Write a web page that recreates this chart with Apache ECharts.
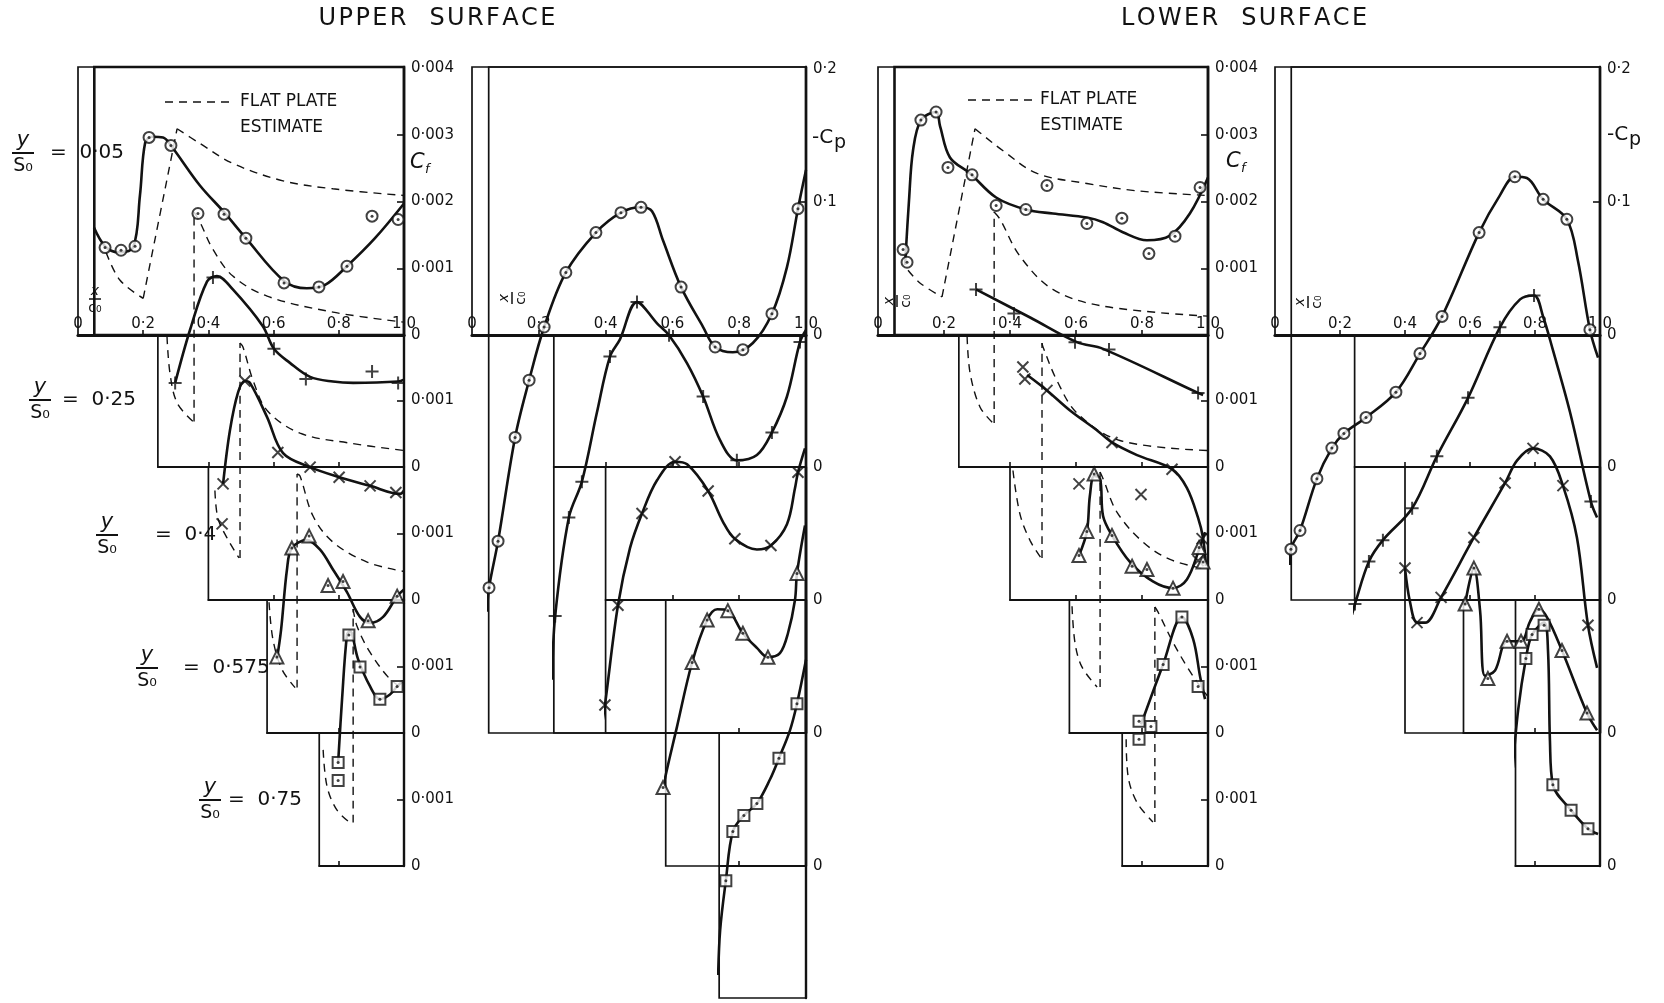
<!DOCTYPE html>
<html>
<head>
<meta charset="utf-8">
<title>Skin friction and pressure distributions</title>
<script src="https://cdn.jsdelivr.net/npm/echarts@6.0.0/dist/echarts.min.js"></script>
<style>
html,body{margin:0;padding:0;background:#ffffff;}
#chart{width:1664px;height:1003px;}
</style>
</head>
<body>
<div id="chart"></div>
<script>
// ================= DATA =================
const stationText = ['0·05', '0·25', '0·4', '0·575', '0·75'];
const leadingEdge = [0.05, 0.245, 0.4, 0.58, 0.74];       // x/c0 of each panel's left edge
const xTickValues = [0, 0.2, 0.4, 0.6, 0.8, 1.0];
const xTickText = ['0', '0·2', '0·4', '0·6', '0·8', '1·0'];
const cfTickValues = [0, 0.001, 0.002, 0.003, 0.004];
const cfTickText = ['0', '0·001', '0·002', '0·003', '0·004'];
const cpTickValues = [0, 0.1, 0.2];
const cpTickText = ['0', '0·1', '0·2'];

// ---- Upper surface, Cf ----
const ucf05Pts = [[0.083,0.00131],[0.132,0.00127],[0.175,0.00133],[0.218,0.00296],[0.285,0.00284],[0.368,0.00182],[0.448,0.00181],[0.515,0.00145],[0.632,0.00078],[0.739,0.00072],[0.825,0.00103],[0.902,0.00178],[0.982,0.00173]];
const ucf05Curve = [[0.049,0.00161],[0.083,0.00133],[0.123,0.00124],[0.169,0.00131],[0.19,0.00209],[0.206,0.00288],[0.227,0.00297],[0.261,0.00296],[0.285,0.00284],[0.374,0.00224],[0.448,0.00184],[0.515,0.00145],[0.632,0.00081],[0.702,0.00070],[0.758,0.00075],[0.825,0.00103],[0.911,0.00145],[1.0,0.00197]];
const ucf05Flat = [[[0.086,0.00124],[0.129,0.00082],[0.2,0.00055]],[[0.2,0.00055],[0.304,0.00309]],[[0.304,0.00309],[0.374,0.00287],[0.475,0.00257],[0.629,0.00231],[0.782,0.00219],[1.0,0.00209]]];

const ucf25Pts = [[0.298,0.00126],[0.414,0.00284],[0.601,0.00177],[0.699,0.00132],[0.902,0.00143],[0.982,0.00126]];
const ucf25Curve = [[0.298,0.00126],[0.344,0.00206],[0.396,0.00278],[0.426,0.00286],[0.475,0.00266],[0.567,0.00211],[0.601,0.00177],[0.65,0.00156],[0.712,0.00135],[0.782,0.00128],[0.844,0.00126],[0.982,0.00128],[1.0,0.00131]];
const ucf25Flat = [[[0.273,0.00196],[0.282,0.00141],[0.304,0.00096],[0.353,0.00068]],[[0.356,0.00068],[0.356,0.00382]],[[0.356,0.00382],[0.374,0.00367],[0.414,0.00326],[0.475,0.00286],[0.58,0.00256],[0.782,0.00232],[1.0,0.00217]]];

const ucf40Pts = [[0.445,0.00174],[0.442,0.00114],[0.512,0.00328],[0.613,0.00221],[0.712,0.00199],[0.801,0.00184],[0.896,0.00171],[0.975,0.00161]];
const ucf40Curve = [[0.445,0.00174],[0.466,0.00254],[0.491,0.00311],[0.512,0.00328],[0.528,0.00325],[0.58,0.00274],[0.629,0.0022],[0.712,0.00199],[0.801,0.00184],[0.896,0.00171],[0.988,0.00159],[1.0,0.00164]];
const ucf40Flat = [[[0.42,0.00164],[0.429,0.00123],[0.457,0.00093],[0.494,0.00063]],[[0.497,0.00063],[0.497,0.00385]],[[0.497,0.00385],[0.506,0.00379],[0.537,0.00329],[0.58,0.00284],[0.681,0.0025],[0.834,0.00235],[1.0,0.00224]]];

const ucf575Pts = [[0.61,0.00114],[0.656,0.00277],[0.709,0.00295],[0.767,0.00221],[0.813,0.00227],[0.89,0.00168],[0.979,0.00205]];
const ucf575Curve = [[0.61,0.0011],[0.623,0.00155],[0.641,0.00245],[0.656,0.00277],[0.702,0.00289],[0.742,0.00275],[0.782,0.00245],[0.825,0.00211],[0.865,0.00174],[0.896,0.00165],[0.936,0.00174],[0.979,0.00205],[1.0,0.00215]];
const ucf575Flat = [[[0.586,0.00196],[0.598,0.0014],[0.626,0.00095],[0.666,0.00068]],[[0.672,0.00068],[0.672,0.00388]],[[0.672,0.00388],[0.681,0.00385],[0.721,0.00325],[0.782,0.00286],[0.887,0.00256],[1.0,0.00242]]];

const ucf75Pts = [[0.831,0.00346],[0.865,0.00298],[0.979,0.00269],[0.926,0.0025],[0.798,0.00155],[0.798,0.00128]];
const ucf75Curve = [[0.798,0.00155],[0.81,0.0025],[0.825,0.00346],[0.834,0.00352],[0.859,0.0031],[0.896,0.00269],[0.926,0.0025],[0.957,0.00257],[0.979,0.00269],[0.997,0.00277]];
const ucf75Flat = [[[0.752,0.00174],[0.764,0.00119],[0.794,0.00084],[0.834,0.00065]],[[0.844,0.00065],[0.844,0.00385]],[[0.844,0.00385],[0.856,0.00359],[0.896,0.0032],[0.957,0.0028],[1.0,0.00265]]];

// ---- Upper surface, -Cp ----
const ucp05Pts = [[0.216,0.006],[0.281,0.047],[0.371,0.077],[0.446,0.092],[0.506,0.096],[0.626,0.036],[0.728,-0.009],[0.811,-0.011],[0.898,0.016],[0.976,0.095],[0.171,-0.034],[0.129,-0.077],[0.078,-0.155],[0.051,-0.19]];
const ucp05Curve = [[0.045,-0.208],[0.051,-0.19],[0.078,-0.155],[0.129,-0.077],[0.171,-0.034],[0.216,0.006],[0.281,0.047],[0.371,0.077],[0.446,0.092],[0.506,0.096],[0.539,0.093],[0.572,0.071],[0.626,0.036],[0.692,0.006],[0.728,-0.009],[0.781,-0.013],[0.841,-0.006],[0.898,0.016],[0.943,0.051],[0.976,0.095],[1.0,0.124]];
const ucp25Pts = [[0.494,0.124],[0.59,0.099],[0.982,0.094],[0.413,0.083],[0.692,0.053],[0.898,0.026],[0.793,0.005],[0.329,-0.011],[0.29,-0.038],[0.249,-0.112]];
const ucp25Curve = [[0.24,-0.16],[0.249,-0.112],[0.29,-0.038],[0.329,-0.011],[0.374,0.041],[0.413,0.083],[0.443,0.096],[0.494,0.124],[0.554,0.108],[0.59,0.099],[0.644,0.078],[0.692,0.053],[0.743,0.02],[0.793,0.005],[0.853,0.009],[0.898,0.026],[0.943,0.053],[0.982,0.094],[1.0,0.103]];
const ucp40Pts = [[0.608,0.104],[0.707,0.082],[0.509,0.065],[0.787,0.046],[0.895,0.041],[0.976,0.096],[0.437,-0.004],[0.398,-0.079]];
const ucp40Curve = [[0.383,-0.104],[0.398,-0.079],[0.437,-0.004],[0.473,0.039],[0.509,0.065],[0.554,0.09],[0.608,0.104],[0.644,0.102],[0.707,0.082],[0.751,0.059],[0.787,0.046],[0.853,0.038],[0.895,0.041],[0.943,0.057],[0.967,0.084],[0.976,0.096],[0.997,0.114]];
const ucp575Pts = [[0.973,0.12],[0.704,0.085],[0.766,0.092],[0.811,0.075],[0.886,0.057],[0.659,0.053],[0.572,-0.041]];
const ucp575Curve = [[0.563,-0.058],[0.572,-0.041],[0.614,0.005],[0.659,0.053],[0.704,0.085],[0.734,0.093],[0.766,0.092],[0.811,0.075],[0.853,0.064],[0.886,0.057],[0.922,0.06],[0.946,0.075],[0.967,0.1],[0.973,0.12],[0.997,0.156]];
const ucp75Pts = [[0.973,0.122],[0.919,0.081],[0.853,0.047],[0.814,0.038],[0.781,0.026],[0.76,-0.011]];
const ucp75Curve = [[0.737,-0.082],[0.743,-0.048],[0.76,-0.011],[0.781,0.026],[0.814,0.038],[0.853,0.047],[0.892,0.065],[0.919,0.081],[0.952,0.102],[0.973,0.122],[1.0,0.155]];

// ---- Lower surface, Cf ----
const lcf05Pts = [[0.076,0.00128],[0.088,0.00109],[0.13,0.00322],[0.176,0.00334],[0.212,0.00251],[0.285,0.0024],[0.358,0.00194],[0.448,0.00188],[0.512,0.00224],[0.633,0.00167],[0.739,0.00175],[0.821,0.00122],[0.9,0.00148],[0.976,0.00221]];
const lcf05Curve = [[0.082,0.00105],[0.094,0.00202],[0.106,0.00276],[0.13,0.00322],[0.176,0.00334],[0.188,0.00313],[0.218,0.00266],[0.279,0.00242],[0.358,0.00206],[0.448,0.00188],[0.53,0.00182],[0.633,0.00176],[0.682,0.00169],[0.742,0.00154],[0.815,0.00142],[0.885,0.00149],[0.945,0.00182],[1.0,0.00236]];
const lcf05Flat = [[[0.091,0.00097],[0.127,0.00078],[0.194,0.00057]],[[0.194,0.00057],[0.294,0.00309]],[[0.294,0.00309],[0.309,0.00303],[0.379,0.00276],[0.482,0.00242],[0.633,0.00227],[0.785,0.00216],[1.0,0.00209]]];

const lcf25Pts = [[0.297,0.00266],[0.412,0.0023],[0.597,0.00187],[0.7,0.00176],[0.97,0.00111]];
const lcf25Curve = [[0.297,0.00266],[0.461,0.00224],[0.603,0.00187],[0.682,0.00177],[0.97,0.00111],[0.985,0.00108]];
const lcf25Flat = [[[0.27,0.00196],[0.279,0.00141],[0.309,0.0009],[0.348,0.00066]],[[0.352,0.00066],[0.352,0.00382]],[[0.352,0.00382],[0.37,0.00371],[0.43,0.00316],[0.53,0.00266],[0.682,0.00241],[1.0,0.00226]]];

const lcf40Pts = [[0.439,0.00349],[0.445,0.00331],[0.512,0.00314],[0.709,0.00236],[0.891,0.00196],[0.609,0.00174],[0.797,0.00158],[0.982,0.00092],[0.97,0.00059]];
const lcf40Curve = [[0.452,0.00337],[0.512,0.00314],[0.582,0.00284],[0.664,0.00254],[0.709,0.00236],[0.785,0.00217],[0.891,0.00196],[0.936,0.00168],[0.97,0.00123],[0.985,0.00093],[0.994,0.00051]];
const lcf40Flat = [[[0.409,0.00194],[0.43,0.00129],[0.461,0.00089],[0.494,0.00063]],[[0.497,0.00063],[0.497,0.00385]],[[0.497,0.00385],[0.5,0.00379],[0.542,0.00329],[0.603,0.0028],[0.733,0.00239],[1.0,0.00224]]];

const lcf575Pts = [[0.655,0.00388],[0.633,0.00302],[0.609,0.00266],[0.709,0.00296],[0.77,0.0025],[0.815,0.00245],[0.894,0.00217],[0.973,0.00278],[0.985,0.00256]];
const lcf575Curve = [[0.609,0.00266],[0.633,0.00302],[0.642,0.00355],[0.655,0.00385],[0.673,0.00381],[0.682,0.00325],[0.709,0.00296],[0.764,0.00256],[0.833,0.00227],[0.894,0.00217],[0.936,0.0023],[0.973,0.00275],[0.991,0.00301]];
const lcf575Flat = [[[0.588,0.0019],[0.597,0.00135],[0.618,0.00099],[0.664,0.00069]],[[0.673,0.00069],[0.673,0.00391]],[[0.673,0.00391],[0.682,0.00381],[0.724,0.00331],[0.803,0.00286],[0.885,0.0026],[1.0,0.00245]]];

const lcf75Pts = [[0.921,0.00373],[0.864,0.00302],[0.97,0.00269],[0.791,0.00217],[0.827,0.00209],[0.791,0.0019]];
const lcf75Curve = [[0.797,0.00212],[0.864,0.00302],[0.921,0.00373],[0.955,0.0034],[0.976,0.00284],[0.991,0.0025]];
const lcf75Flat = [[[0.752,0.0019],[0.758,0.00134],[0.785,0.00095],[0.833,0.00066]],[[0.839,0.00066],[0.839,0.00388]],[[0.839,0.00388],[0.848,0.00381],[0.894,0.00335],[0.936,0.00299],[0.976,0.00269],[1.0,0.00254]]];

// ---- Lower surface, -Cp ----
const lcp05Pts = [[0.514,0.014],[0.628,0.077],[0.738,0.119],[0.825,0.102],[0.898,0.087],[0.969,0.004],[0.446,-0.014],[0.372,-0.043],[0.28,-0.062],[0.212,-0.074],[0.175,-0.085],[0.129,-0.108],[0.077,-0.147],[0.049,-0.161]];
const lcp05Curve = [[0.046,-0.173],[0.049,-0.161],[0.077,-0.147],[0.129,-0.108],[0.175,-0.085],[0.212,-0.074],[0.28,-0.062],[0.372,-0.043],[0.446,-0.014],[0.514,0.014],[0.628,0.077],[0.692,0.105],[0.738,0.119],[0.775,0.118],[0.825,0.102],[0.898,0.087],[0.932,0.056],[0.969,0.004],[0.994,-0.017]];
const lcp25Pts = [[0.797,0.129],[0.692,0.105],[0.594,0.052],[0.498,0.008],[0.422,-0.031],[0.332,-0.055],[0.289,-0.071],[0.246,-0.103],[0.972,-0.026]];
const lcp25Curve = [[0.237,-0.111],[0.246,-0.103],[0.289,-0.071],[0.332,-0.055],[0.422,-0.031],[0.498,0.008],[0.594,0.052],[0.692,0.105],[0.754,0.126],[0.797,0.129],[0.825,0.113],[0.855,0.088],[0.908,0.041],[0.972,-0.026],[0.991,-0.038]];
const lcp40Pts = [[0.794,0.114],[0.708,0.088],[0.886,0.086],[0.612,0.047],[0.511,0.002],[0.4,0.024],[0.437,-0.017],[0.963,-0.019]];
const lcp40Curve = [[0.4,0.024],[0.415,-0.001],[0.437,-0.017],[0.462,-0.017],[0.511,0.002],[0.612,0.047],[0.708,0.088],[0.745,0.105],[0.794,0.114],[0.846,0.108],[0.886,0.086],[0.929,0.047],[0.963,-0.019],[0.991,-0.051]];
const lcp575Pts = [[0.612,0.124],[0.585,0.097],[0.655,0.041],[0.714,0.069],[0.757,0.069],[0.812,0.093],[0.883,0.062],[0.96,0.015]];
const lcp575Curve = [[0.585,0.097],[0.612,0.124],[0.631,0.092],[0.646,0.043],[0.677,0.047],[0.714,0.069],[0.757,0.069],[0.785,0.084],[0.812,0.093],[0.837,0.087],[0.883,0.062],[0.96,0.015],[0.991,0.002]];
const lcp75Pts = [[0.772,0.156],[0.791,0.174],[0.828,0.181],[0.855,0.061],[0.911,0.042],[0.963,0.028]];
const lcp75Curve = [[0.732,0.074],[0.748,0.117],[0.772,0.156],[0.791,0.174],[0.828,0.183],[0.84,0.162],[0.846,0.094],[0.855,0.061],[0.911,0.042],[0.963,0.028],[0.994,0.024]];

// ================= LAYOUT =================
const INK = '#121212';
const FONT = '"DejaVu Sans", "Liberation Sans", sans-serif';
const COL = { ucf:{x0:78,w:326}, ucp:{x0:472,w:334}, lcf:{x0:878,w:330}, lcp:{x0:1275,w:325} };
const ZERO = [335, 467, 600, 733, 866];
const TOP = 67;
const CF_PX = 66750;   // px per unit Cf
const CP_PX = 1330;    // px per unit -Cp
const ucpBoxes = [[TOP,733],[335,733],[467,733],[600,866],[733,998]];
const lcpBoxes = [[TOP,600],[335,600],[467,733],[600,733],[600,866]];

const SYMS = [
  {symbol:'emptyCircle', size:11, dot:true},
  {symbol:'path://M0,7H14M7,0V14', size:13, dot:false},
  {symbol:'path://M0,0L14,14M14,0L0,14', size:11, dot:false},
  {symbol:'emptyTriangle', size:13, dot:true},
  {symbol:'emptyRect', size:11, dot:true}
];

function lookup(vals, texts, v) {
  for (let i = 0; i < vals.length; i++) if (Math.abs(vals[i] - v) < 1e-9) return texts[i];
  return '';
}

const grids = [], xAxes = [], yAxes = [], series = [];

function addGrid(col, xmin, top, bot, zero, pxPer, o) {
  o = o || {};
  const c = COL[col];
  grids.push({left: c.x0 + xmin * c.w, top: top, width: (1 - xmin) * c.w, height: bot - top,
    show: o.box !== false, borderColor: INK, borderWidth: o.bw || 1.7,
    backgroundColor: 'rgba(0,0,0,0)', containLabel: false, outerBoundsMode: 'none'});
  const gi = grids.length - 1;
  const ymin = -(bot - zero) / pxPer, ymax = (zero - top) / pxPer;
  const xt = (o.xTicks || []).filter(v => v > xmin + 0.02 && v < 0.99);
  const yl = (o.yLabels || []).filter(v => v >= ymin - 1e-9 && v <= ymax + 1e-6);
  xAxes.push({gridIndex: gi, type: 'value', min: xmin, max: 1, splitLine: {show: false},
    axisLine: {show: o.xLine !== false, onZero: true, lineStyle: {color: INK, width: o.xw || 1.8}},
    axisTick: {show: xt.length > 0, inside: true, length: 5, customValues: xt, lineStyle: {color: INK, width: 1.6}},
    axisLabel: {show: !!o.xLabels, inside: true, margin: 3, customValues: o.xLabels ? xTickValues : [],
      formatter: v => lookup(xTickValues, xTickText, v), color: INK, fontFamily: FONT, fontSize: 15}
  });
  yAxes.push({gridIndex: gi, type: 'value', position: 'right', min: ymin, max: ymax, splitLine: {show: false},
    axisLine: {show: o.yLine !== false, onZero: false, lineStyle: {color: INK, width: 2.4}},
    axisTick: {show: (o.yTicks || []).length > 0, inside: true, length: 7, customValues: o.yTicks || [], lineStyle: {color: INK, width: 1.6}},
    axisLabel: {show: yl.length > 0, customValues: yl, margin: 7,
      formatter: v => lookup(o.yVals || [], o.yText || [], v), color: INK, fontFamily: FONT, fontSize: 15}
  });
  return gi;
}

function addPanel(gi, pts, curve, flat, sym) {
  series.push({type: 'line', xAxisIndex: gi, yAxisIndex: gi, data: curve, smooth: 0.35, symbol: 'none',
    showSymbol: false, clip: false, silent: true, z: 3, lineStyle: {color: INK, width: 2.6}});
  (flat || []).forEach(seg => series.push({type: 'line', xAxisIndex: gi, yAxisIndex: gi, data: seg, smooth: 0.35,
    symbol: 'none', showSymbol: false, clip: false, silent: true, z: 2, lineStyle: {color: INK, width: 1.4, type: [8, 6]}}));
  series.push({type: 'scatter', xAxisIndex: gi, yAxisIndex: gi, data: pts, symbol: sym.symbol, symbolSize: sym.size,
    clip: false, silent: true, z: 5,
    itemStyle: sym.dot ? {color: INK} : {color: 'none', borderColor: INK, borderWidth: 2}});
  if (sym.dot) series.push({type: 'scatter', xAxisIndex: gi, yAxisIndex: gi, data: pts, symbol: 'circle', symbolSize: 3,
    clip: false, silent: true, z: 6, itemStyle: {color: INK}});
}

const xt = [0.2, 0.4, 0.6, 0.8];

function buildCf(col, panels) {
  const g = [];
  g[0] = addGrid(col, 0, TOP, ZERO[0], ZERO[0], CF_PX, {xw: 3.2, xTicks: xt, xLabels: true,
    yTicks: [0.001, 0.002, 0.003], yLabels: cfTickValues, yVals: cfTickValues, yText: cfTickText});
  addGrid(col, leadingEdge[0], TOP, ZERO[0], ZERO[0], CF_PX, {bw: 2.6, xLine: false, yLine: false});
  for (let k = 1; k < 5; k++) {
    g[k] = addGrid(col, leadingEdge[k], ZERO[k - 1], ZERO[k], ZERO[k], CF_PX, {xTicks: xt,
      yTicks: [0.001], yLabels: [0, 0.001], yVals: cfTickValues, yText: cfTickText});
  }
  panels.forEach((p, k) => addPanel(g[k], p[0], p[1], p[2], SYMS[k]));
}

function buildCp(col, boxes, panels) {
  const g = [];
  addGrid(col, 0, TOP, ZERO[0], ZERO[0], CP_PX, {xw: 3.2, xTicks: xt, xLabels: true,
    yTicks: [0.1], yLabels: cpTickValues, yVals: cpTickValues, yText: cpTickText});
  for (let k = 0; k < 5; k++) {
    g[k] = addGrid(col, leadingEdge[k], boxes[k][0], boxes[k][1], ZERO[k], CP_PX, {xLine: k > 0, xw: 2,
      xTicks: k > 0 ? xt : [], yLabels: k > 0 ? [0] : [], yVals: cpTickValues, yText: cpTickText});
  }
  panels.forEach((p, k) => addPanel(g[k], p[0], p[1], null, SYMS[k]));
}

buildCf('ucf', [[ucf05Pts, ucf05Curve, ucf05Flat], [ucf25Pts, ucf25Curve, ucf25Flat], [ucf40Pts, ucf40Curve, ucf40Flat],
  [ucf575Pts, ucf575Curve, ucf575Flat], [ucf75Pts, ucf75Curve, ucf75Flat]]);
buildCp('ucp', ucpBoxes, [[ucp05Pts, ucp05Curve], [ucp25Pts, ucp25Curve], [ucp40Pts, ucp40Curve], [ucp575Pts, ucp575Curve], [ucp75Pts, ucp75Curve]]);
buildCf('lcf', [[lcf05Pts, lcf05Curve, lcf05Flat], [lcf25Pts, lcf25Curve, lcf25Flat], [lcf40Pts, lcf40Curve, lcf40Flat],
  [lcf575Pts, lcf575Curve, lcf575Flat], [lcf75Pts, lcf75Curve, lcf75Flat]]);
buildCp('lcp', lcpBoxes, [[lcp05Pts, lcp05Curve], [lcp25Pts, lcp25Curve], [lcp40Pts, lcp40Curve], [lcp575Pts, lcp575Curve], [lcp75Pts, lcp75Curve]]);

// ================= ANNOTATIONS =================
function gText(x, y, text, font, align, extra) {
  return {type: 'text', x: x, y: y, silent: true, z: 10,
    style: Object.assign({text: text, fill: INK, font: font, textAlign: align || 'left', verticalAlign: 'middle'}, extra || {})};
}
function gLine(x1, y1, x2, y2, w, dash) {
  return {type: 'line', silent: true, z: 10, shape: {x1: x1, y1: y1, x2: x2, y2: y2},
    style: {stroke: INK, lineWidth: w || 1.5, lineDash: dash || null}};
}
const spaced = s => s.split('').join('\u200a');
const graphic = [];
graphic.push(gText(437, 19, spaced('UPPER') + '   ' + spaced('SURFACE'), '24px ' + FONT, 'center'));
graphic.push(gText(1244, 19, spaced('LOWER') + '   ' + spaced('SURFACE'), '24px ' + FONT, 'center'));

// station labels
const stationLayout = [{cx: 23, by: 153, ex: 50}, {cx: 40, by: 400, ex: 62}, {cx: 107, by: 535, ex: 155},
  {cx: 147, by: 668, ex: 183}, {cx: 210, by: 800, ex: 228}];
stationLayout.forEach((s, i) => {
  graphic.push(gText(s.cx, s.by - 12, 'y', 'italic 21px ' + FONT, 'center'));
  graphic.push(gLine(s.cx - 11, s.by, s.cx + 11, s.by, 2));
  graphic.push(gText(s.cx, s.by + 13, 'S\u2080', '19px ' + FONT, 'center'));
  graphic.push(gText(s.ex, s.by, '=  ' + stationText[i], '20px ' + FONT, 'left'));
});

// flat plate legends
[[165, 233, 102, 240], [968, 1033, 100, 1040]].forEach(L => {
  graphic.push(gLine(L[0], L[2], L[1], L[2], 1.4, [8, 6]));
  graphic.push(gText(L[3], L[2], 'FLAT PLATE', '17px ' + FONT, 'left'));
  graphic.push(gText(L[3], L[2] + 26, 'ESTIMATE', '17px ' + FONT, 'left'));
});

// Cf and -Cp axis titles
[[410, 163], [1226, 162]].forEach(p => {
  graphic.push(gText(p[0], p[1], 'C', 'italic 21px ' + FONT, 'left'));
  graphic.push(gText(p[0] + 15, p[1] + 7, 'f', 'italic 13px ' + FONT, 'left'));
});
[[812, 138], [1607, 135]].forEach(p => {
  graphic.push(gText(p[0], p[1], '-C', '20px ' + FONT, 'left'));
  graphic.push(gText(p[0] + 22, p[1] + 5, 'p', '19px ' + FONT, 'left'));
});

// x/c0 labels
graphic.push(gText(95, 291, 'x', 'italic 14px ' + FONT, 'center'));
graphic.push(gLine(89, 299, 101, 299, 1.5));
graphic.push(gText(95, 308, 'c\u2080', '14px ' + FONT, 'center'));
[[512, 298], [897, 301], [1308, 302]].forEach(p => {
  graphic.push({type: 'group', x: p[0], y: p[1], rotation: Math.PI / 2, silent: true, z: 10, children: [
    gText(0, -8, 'x', 'italic 14px ' + FONT, 'center'),
    gLine(-6, 0, 6, 0, 1.5),
    gText(0, 9, 'c\u2080', '14px ' + FONT, 'center')
  ]});
});

const chart = echarts.init(document.getElementById('chart'), null, {renderer: 'canvas'});
chart.setOption({
  animation: false,
  backgroundColor: '#ffffff',
  textStyle: {fontFamily: FONT, color: INK},
  grid: grids,
  xAxis: xAxes,
  yAxis: yAxes,
  series: series,
  graphic: graphic
});
</script>
</body>
</html>
